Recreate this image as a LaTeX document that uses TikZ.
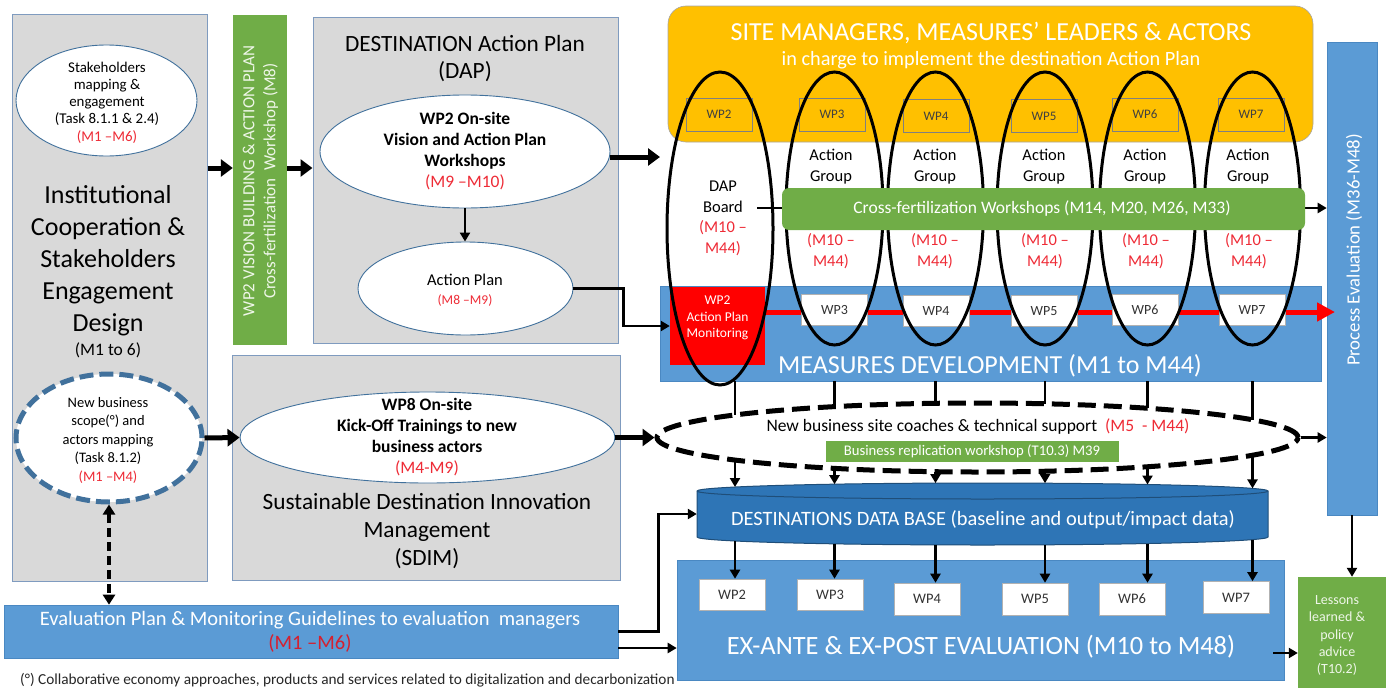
\documentclass[tikz,border=0pt]{standalone}
\usepackage{fontspec}
\setmainfont{Carlito}
\usetikzlibrary{shapes.geometric,arrows.meta,calc}
\definecolor{gfill}{HTML}{D9D9D9}
\definecolor{gline}{HTML}{7F9BBF}
\definecolor{grn}{HTML}{70AD47}
\definecolor{blu}{HTML}{5B9BD5}
\definecolor{bluline}{HTML}{4A88C2}
\definecolor{dblu}{HTML}{2E75B6}
\definecolor{dbline}{HTML}{1F4E79}
\definecolor{yel}{HTML}{FFC000}
\definecolor{mred}{HTML}{FF0000}
\definecolor{tred}{HTML}{EE2B36}
\definecolor{dred}{HTML}{D42030}
\definecolor{elline}{HTML}{41719C}
\definecolor{lgtxt}{HTML}{EEF6E8}
\newcommand{\myfs}[2]{\fontsize{#1}{#2}\selectfont}
\begin{document}
\begin{tikzpicture}[x=1pt,y=-1pt,
  graybox/.style={draw=gline, fill=gfill, line width=1pt, inner sep=0pt},
  greenbox/.style={fill=grn, draw=none, inner sep=0pt},
  bluebox/.style={fill=blu, draw=bluline, line width=0.6pt, inner sep=0pt},
  whiteell/.style={ellipse, draw=elline, fill=white, line width=0.9pt, inner sep=0pt},
  blackell/.style={ellipse, draw=black, line width=3pt, inner sep=0pt},
  wpy/.style={draw=gray, line width=0.8pt, minimum width=66pt, minimum height=33pt, inner sep=0pt, font=\myfs{13}{15}, text=black!75},
  wpw/.style={draw=gray!60, fill=white, line width=0.6pt, minimum width=66pt, minimum height=31pt, inner sep=0pt, font=\myfs{14}{16}, text=black!80},
  txt/.style={inner sep=0pt, align=center},
  bigarr/.style={line width=5pt, -{Triangle[length=12pt,width=17pt]}},
  arr/.style={line width=2.6pt, -{Triangle[length=9pt,width=10pt]}},
]
\useasboundingbox (0,0) rectangle (1389,688);

% ---------------- left column
\node[graybox, minimum width=195pt, minimum height=567pt] (inst) at (109.5,297.5) {};
\node[whiteell, minimum width=181pt, minimum height=111pt] (stk) at (106.5,100.5) {};
\node[txt, font=\myfs{14.9}{17.3}] (stkt) at (107,102.5) {Stakeholders\\mapping \&\\engagement\\(Task 8.1.1 \& 2.4)\\\textcolor{tred}{(M1 –M6)}};
\node[txt, font=\myfs{26}{32}] (instt) at (108,261) {Institutional\\Cooperation \&\\Stakeholders\\Engagement\\Design};
\node[txt, font=\myfs{17.5}{19}] (instm) at (108,350) {(M1 to 6)};
\node[ellipse, draw=elline, fill=white, line width=5pt, dash pattern=on 14pt off 6pt, minimum width=186pt, minimum height=128pt, inner sep=0pt] (nb) at (109,438) {};
\node[txt, font=\myfs{14.5}{18.5}] (nbt) at (108,440) {New business\\scope(°) and\\actors mapping\\(Task 8.1.2)\\\textcolor{tred}{(M1 –M4)}};

% ---------------- green vertical bar
\node[greenbox, minimum width=54pt, minimum height=330pt] (vis) at (260,180) {};
\node[txt, rotate=90, text=lgtxt, font=\myfs{17}{21}] (vist) at (260.5,181) {WP2 VISION BUILDING \& ACTION PLAN\\Cross-fertilization\ \ Workshop (M8)};

% ---------------- DAP
\node[graybox, minimum width=305pt, minimum height=326pt] (dap) at (465.5,180) {};
\node[txt, font=\myfs{23.3}{27}] (dapt) at (465,59) {DESTINATION Action Plan\\(DAP)};
\node[whiteell, minimum width=290pt, minimum height=113pt] (wp2w) at (465,151.5) {};
\node[txt, font=\bfseries\myfs{17.5}{21}] (wp2wt) at (465,151.5) {WP2 On-site\\Vision and Action Plan\\Workshops\\\textcolor{tred}{\mdseries (M9 –M10)}};
\node[whiteell, minimum width=215pt, minimum height=93pt] (ap) at (465.5,288.5) {};
\node[txt, font=\myfs{16.5}{18}] (apt) at (465,280) {Action Plan};
\node[txt, font=\myfs{13.5}{15}, text=tred] (apm) at (465,300) {(M8 –M9)};

% ---------------- SDIM
\node[graybox, minimum width=388pt, minimum height=225pt] (sdim) at (426,467.5) {};
\node[whiteell, minimum width=375pt, minimum height=91pt] (wp8) at (427.5,437.5) {};
\node[txt, font=\bfseries\myfs{17.5}{21}] (wp8t) at (427,437.5) {WP8 On-site\\Kick-Off Trainings to new\\business actors\\\textcolor{tred}{\mdseries(M4-M9)}};
\node[txt, font=\myfs{23.3}{28}] (sdimt) at (427,531) {Sustainable Destination Innovation\\Management\\(SDIM)};

% ---------------- evaluation bar and footnote
\node[bluebox, minimum width=614pt, minimum height=53pt] (evalb) at (311,631.5) {};
\node[txt, text=white, font=\myfs{20.5}{24}] (evalt) at (310,632) {Evaluation Plan \& Monitoring Guidelines to evaluation\ \ managers\\\textcolor{dred}{(M1 –M6)}};
\node[anchor=west, inner sep=0pt, font=\myfs{15.3}{16}, text=black!85] (foot) at (20,680) {(°) Collaborative economy approaches, products and services related to digitalization and decarbonization};

% ---------------- yellow header
\node[fill=yel, draw=gray!70, line width=0.6pt, rounded corners=18pt, minimum width=645pt, minimum height=136pt, inner sep=0pt] (site) at (990.5,74) {};
\node[txt, text=white, font=\myfs{26}{28}] (sitet) at (991,33) {SITE MANAGERS, MEASURES’ LEADERS \& ACTORS};
\node[txt, text=white, font=\myfs{20.3}{22}] (sitet2) at (991,60) {in charge to implement the destination Action Plan};
\node[wpy] (y2) at (719,114.5) {WP2};
\node[wpy] (y3) at (832,114.5) {WP3};
\node[wpy] (y4) at (936,116) {WP4};
\node[wpy] (y5) at (1044,116) {WP5};
\node[wpy] (y6) at (1145,114.5) {WP6};
\node[wpy] (y7) at (1251,114.5) {WP7};

% ---------------- process evaluation
\node[bluebox, minimum width=50pt, minimum height=473pt] (proc) at (1352,278.5) {};
\node[txt, rotate=90, text=white, font=\myfs{18.7}{22}] (proct) at (1354,250) {Process Evaluation (M36-M48)};

% ---------------- measures development
\node[bluebox, minimum width=661pt, minimum height=95pt] (meas) at (990.5,333.5) {};
\node[txt, text=white, font=\myfs{26}{28}] (meast) at (990,366) {MEASURES DEVELOPMENT (M1 to M44)};
\node[fill=mred, draw=none, minimum width=95pt, minimum height=78pt, inner sep=0pt] (mon) at (717.5,326) {};
\node[txt, text=white, font=\myfs{13.5}{16.5}] (mont) at (717.5,318) {WP2\\Action Plan\\Monitoring};
\coordinate (redend) at (1335,312);
\draw[line width=5pt, draw=mred, -{Triangle[length=18pt,width=18pt]}] (mon.east |- redend) -- (redend);
\node[wpw] (m3) at (834.5,310) {WP3};
\node[wpw] (m4) at (936,311) {WP4};
\node[wpw] (m5) at (1044,311) {WP5};
\node[wpw] (m6) at (1145,310) {WP6};
\node[wpw] (m7) at (1252,310) {WP7};

% ---------------- black ellipses
\node[blackell, minimum width=106pt, minimum height=313pt] (e2) at (720,228.5) {};
\node[blackell, minimum width=97pt, minimum height=273pt] (e3) at (834.5,208.5) {};
\node[blackell, minimum width=96pt, minimum height=273pt] (e4) at (935.5,208.5) {};
\node[blackell, minimum width=96pt, minimum height=273pt] (e5) at (1045,208.5) {};
\node[blackell, minimum width=96pt, minimum height=273pt] (e6) at (1147.5,208.5) {};
\node[blackell, minimum width=96pt, minimum height=273pt] (e7) at (1252.5,208.5) {};

% DAP board line to process evaluation (under the green bar)
\coordinate (dapb) at (757,208);
\draw[arr] (dapb) -- (dapb -| proc.west);

% cross fertilization bar
\node[greenbox, rounded corners=7pt, minimum width=523pt, minimum height=42pt] (cross) at (1043.5,209) {};
\node[txt, text=white, font=\myfs{17.5}{18}] (crosst) at (1042,209) {Cross-fertilization Workshops (M14, M20, M26, M33)};

% ellipse texts
\node[txt, font=\myfs{16.5}{21}] (e2t) at (723,197) {DAP\\Board};
\node[txt, font=\myfs{16.5}{21}, text=tred] (e2m) at (723,238.5) {(M10 –\\M44)};
\node[txt, font=\myfs{16.5}{21}] (e3t) at (831,167) {Action\\Group};
\node[txt, font=\myfs{16.5}{21}] (e4t) at (935,167) {Action\\Group};
\node[txt, font=\myfs{16.5}{21}] (e5t) at (1044,167) {Action\\Group};
\node[txt, font=\myfs{16.5}{21}] (e6t) at (1145,167) {Action\\Group};
\node[txt, font=\myfs{16.5}{21}] (e7t) at (1248,167) {Action\\Group};
\node[txt, font=\myfs{16.5}{21}, text=tred] (e3m) at (831,251) {(M10 –\\M44)};
\node[txt, font=\myfs{16.5}{21}, text=tred] (e4m) at (935,251) {(M10 –\\M44)};
\node[txt, font=\myfs{16.5}{21}, text=tred] (e5m) at (1045,251) {(M10 –\\M44)};
\node[txt, font=\myfs{16.5}{21}, text=tred] (e6m) at (1146,251) {(M10 –\\M44)};
\node[txt, font=\myfs{16.5}{21}, text=tred] (e7m) at (1249,251) {(M10 –\\M44)};

% ---------------- dashed ellipse (new business coaches)
\node[ellipse, draw=black, line width=5pt, dash pattern=on 18pt off 8pt, minimum width=641pt, minimum height=69pt, inner sep=0pt] (nbc) at (977.5,437.5) {};
\node[txt, font=\myfs{17.5}{18}] (nbct) at (978,427) {New business site coaches \& technical support\ \ \textcolor{tred}{(M5\ \ - M44)}};
\node[greenbox, minimum width=293pt, minimum height=21pt] (brw) at (972,451.5) {};
\node[txt, text=white, font=\myfs{14.7}{15}] (brwt) at (972,451.5) {Business replication workshop (T10.3) M39};

% ---------------- data base cylinder
\fill[dblu] (697,491) -- (697,537) arc[start angle=180,end angle=360,x radius=285.5pt,y radius=8pt] -- (1268,491) arc[start angle=0,end angle=180,x radius=285.5pt,y radius=8pt] -- cycle;
\draw[dbline, line width=1pt] (697,491) -- (697,537) arc[start angle=180,end angle=360,x radius=285.5pt,y radius=8pt] -- (1268,491) arc[start angle=0,end angle=180,x radius=285.5pt,y radius=8pt] -- cycle;
\draw[dbline, line width=1pt] (697,491) arc[start angle=180,end angle=360,x radius=285.5pt,y radius=8pt];
\node[inner sep=0pt, minimum width=571pt, minimum height=46pt] (db) at (982.5,514) {};
\node[txt, text=white, font=\myfs{20.4}{22}] (dbt) at (983,520) {DESTINATIONS DATA BASE (baseline and output/impact data)};

% ---------------- ex-ante evaluation
\node[bluebox, minimum width=607pt, minimum height=120pt] (exante) at (980.5,620) {};
\node[txt, text=white, font=\myfs{26.4}{28}] (exantet) at (981,647) {EX-ANTE \& EX-POST EVALUATION (M10 to M48)};
\node[wpw, minimum height=31pt, font=\myfs{14.5}{16}] (x2) at (732,594.5) {WP2};
\node[wpw, minimum height=31pt, font=\myfs{14.5}{16}] (x3) at (830,594.5) {WP3};
\node[wpw, minimum height=32pt, font=\myfs{14.5}{16}] (x4) at (927,599) {WP4};
\node[wpw, minimum height=32pt, font=\myfs{14.5}{16}] (x5) at (1035,599) {WP5};
\node[wpw, minimum height=32pt, font=\myfs{14.5}{16}] (x6) at (1132,599) {WP6};
\node[wpw, minimum height=32pt, font=\myfs{14.5}{16}] (x7) at (1236,597.5) {WP7};

% ---------------- lessons learned
\node[greenbox, minimum width=88pt, minimum height=111pt] (les) at (1342,632.5) {};
\node[txt, text=lgtxt, font=\myfs{14}{17.3}] (lest) at (1337,635.5) {Lessons\\learned \&\\policy\\advice\\(T10.2)};

% ---------------- connectors, left part
\coordinate (r1) at (0,168);
\draw[bigarr] (inst.east |- r1) -- (vis.west |- r1);
\draw[bigarr] (vis.east |- r1) -- (dap.west |- r1);
\coordinate (w2end) at (660,157);
\draw[bigarr] (wp2w.east |- w2end) -- (w2end);
\draw[arr] (wp2w.south) -- (ap.north -| wp2w.south);
\draw[arr] (ap.east) -- ++(50,0) |- (mon.west);
\draw[bigarr] (nb.east) -- (wp8.west);
\draw[bigarr] (wp8.east) -- (nbc.west);
\draw[line width=4pt, dash pattern=on 9pt off 5pt, {Triangle[length=10pt,width=12pt]}-{Triangle[length=10pt,width=12pt]}] (nb.south) -- (nb.south |- evalb.north);
\draw[arr] (evalb.east) -- ++(40,0) |- (db.west);
\coordinate (e2c) at ($(evalb.east)+(0,16.5)$);
\draw[arr] (e2c) -- (e2c -| exante.west);

% ---------------- connectors, right part
\coordinate (t2) at (735,415);
\coordinate (t3) at (834.5,406.6);
\coordinate (t4) at (935.5,403.3);
\coordinate (t5) at (1045,403.8);
\coordinate (t6) at (1147.5,408.3);
\coordinate (t7) at (1252.5,419.8);
\draw[line width=2.6pt] (t2 |- meas.south) -- (t2);
\draw[line width=2.6pt] (e3 |- meas.south) -- (t3);
\draw[line width=2.6pt] (e4 |- meas.south) -- (t4);
\draw[line width=2.6pt] (e5 |- meas.south) -- (t5);
\draw[line width=2.6pt] (e6 |- meas.south) -- (t6);
\draw[line width=2.6pt] (e7 |- meas.south) -- (t7);

\coordinate (u2) at (735,460);
\coordinate (u3) at (834.5,468.4);
\coordinate (u4) at (935.5,471.7);
\coordinate (u5) at (1045,471.3);
\coordinate (u6) at (1147.5,466.7);
\coordinate (u7) at (1252.5,455.2);
\coordinate (d2) at (735,487);
\coordinate (d3) at (834.5,484.2);
\coordinate (d4) at (935.5,483.1);
\coordinate (d5) at (1045,483.2);
\coordinate (d6) at (1147.5,484.5);
\coordinate (d7) at (1252.5,488.4);
\foreach \i in {2,...,7} { \draw[arr] (u\i) -- (d\i); }

\coordinate (f2) at (735,541);
\coordinate (f3) at (834.5,543.8);
\coordinate (f4) at (935.5,544.9);
\coordinate (f5) at (1045,544.8);
\coordinate (f6) at (1147.5,543.5);
\coordinate (f7) at (1252.5,539.6);
\foreach \i in {2,...,7} { \draw[arr] (f\i) -- (f\i |- x\i.north); }

\draw[arr] (nbc.east) -- (nbc.east -| proc.west);
\draw[arr] (proc.south) -- (proc.south |- les.north);
\coordinate (lx) at (1273,653);
\draw[arr] (lx) -- (lx -| les.west);
\end{tikzpicture}
\end{document}
